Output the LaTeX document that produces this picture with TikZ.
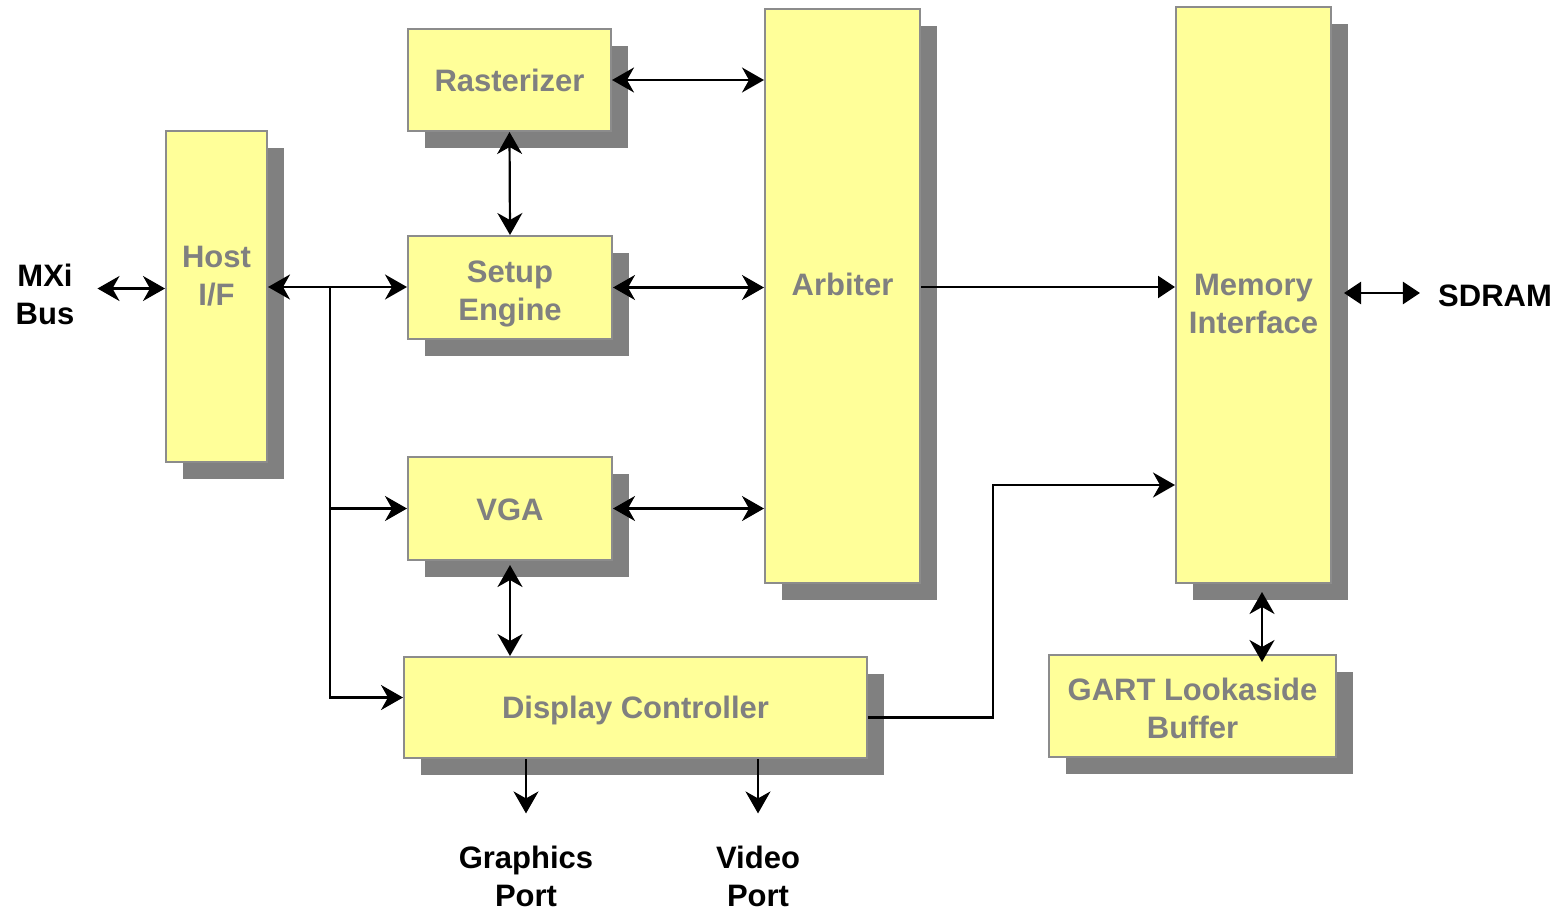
\documentclass[tikz,border=0pt]{standalone}
\usepackage{fontspec}
\setmainfont{Liberation Sans}
\usetikzlibrary{arrows.meta,shadows}
\definecolor{boxyellow}{HTML}{FFFF99}
\definecolor{boxgray}{HTML}{8C8C8C}
\definecolor{shadowgray}{HTML}{808080}
\tikzset{
  blk/.style={draw=boxgray, line width=2pt, fill=boxyellow, text=shadowgray,
    font=\fontsize{31}{38}\selectfont\bfseries, align=center, inner sep=0pt, text height=23pt,
    drop shadow={shadow xshift=17pt, shadow yshift=-17pt, fill=shadowgray, opacity=1}},
  port/.style={font=\fontsize{31}{38}\selectfont\bfseries, align=center, inner sep=0pt},
  >={Stealth[length=22pt,width=25pt,inset=7pt]},
  wire/.style={line width=2.2pt},
  tri/.style={-{Triangle[length=17pt,width=22pt]}},
  tritri/.style={{Triangle[length=17pt,width=22pt]}-{Triangle[length=17pt,width=22pt]}}
}
\begin{document}
\begin{tikzpicture}[x=1pt,y=-1pt]
  \useasboundingbox (0,0) rectangle (1562,911);
  %Nodes
  \node at (216.5,296.5) (host) [blk, minimum width=101pt, minimum height=331pt, text depth=6pt] {Host\\I/F};
  \node at (509.5,80)    (ras)  [blk, minimum width=203pt, minimum height=102pt, text depth=0pt] {Rasterizer};
  \node at (510,287.5)   (setup)[blk, minimum width=204pt, minimum height=103pt, text height=65pt, text depth=0pt] {Setup\\Engine};
  \node at (510,508.5)   (vga)  [blk, minimum width=204pt, minimum height=103pt, text depth=0pt] {VGA};
  \node at (635.5,707.5) (dc)   [blk, minimum width=463pt, minimum height=101pt, text depth=2pt] {Display Controller};
  \node at (842.5,296)   (arb)  [blk, minimum width=155pt, minimum height=574pt, text depth=25pt] {Arbiter};
  \node at (1253.5,295)  (mem)  [blk, minimum width=155pt, minimum height=576pt, text height=76pt, text depth=0pt] {Memory\\Interface};
  \node at (1192.5,706)  (gart) [blk, minimum width=287pt, minimum height=102pt, text height=64pt, text depth=0pt] {GART Lookaside\\Buffer};
  \node at (45,294)      (mxi)   [port] {MXi\\Bus};
  \node at (1495,296)    (sdram) [port] {SDRAM};
  \node at (526,876)     (gport) [port] {Graphics\\Port};
  \node at (758,876)     (vport) [port] {Video\\Port};
  \coordinate (split) at (330,287);
  \coordinate (bend) at (993,485);

  %Lines
  \draw[wire,<->] ([xshift=23pt,yshift=8pt]mxi.east |- host.west) -- ([yshift=8pt]host.west);
  \draw[wire,<->] (host.east |- split) -- (split -| setup.west);
  \draw[wire,->] (split) |- (vga.west);
  \draw[wire,->] (split) |- ([yshift=10pt]dc.west);
  \draw[wire,<->] (ras.east) -- (ras.east -| arb.west);
  \draw[wire,<->] (ras.south) -- (setup.north);
  \draw[wire,<->] (setup.east) -- (setup.east -| arb.west);
  \draw[wire,<->] (vga.east) -- (vga.east -| arb.west);
  \draw[wire,<->] ([yshift=-4pt]vga.south) -- (dc.north -| vga.south);
  \draw[wire,->] (dc.south -| gport.north) -- ([yshift=32pt]gport.north);
  \draw[wire,->] (dc.south -| vport.north) -- ([yshift=32pt]vport.north);
  \draw[wire,tri] ([yshift=9pt]arb.east) -- ([yshift=9pt]arb.east -| mem.west);
  \draw[wire,tritri] ([xshift=12pt,yshift=3pt]mem.east |- sdram.west) -- ([xshift=-18pt,yshift=3pt]sdram.west);
  \draw[wire,->] ([yshift=-10pt]dc.east) -| (bend) -- (bend -| mem.west);
  \draw[wire,<->] ([xshift=8.5pt,yshift=-8pt]mem.south) -- ([xshift=8.5pt,yshift=-8pt]mem.south |- gart.north);
\end{tikzpicture}
\end{document}
